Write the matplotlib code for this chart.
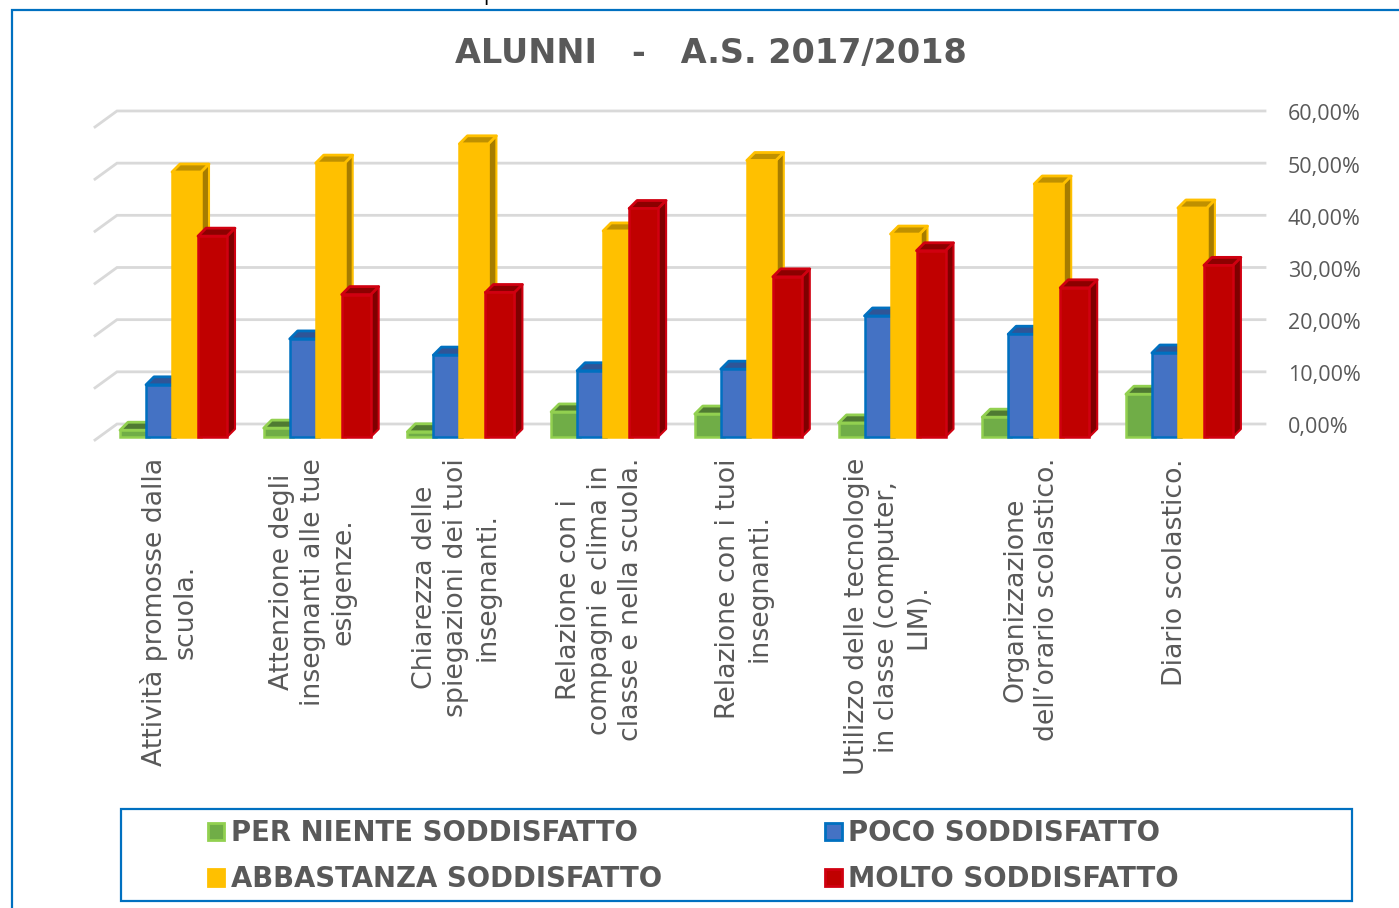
import matplotlib
matplotlib.use('Agg')
import matplotlib.pyplot as plt
from matplotlib.patches import Patch, Polygon, Rectangle
from matplotlib.lines import Line2D
from matplotlib.transforms import ScaledTranslation
import numpy as np

W, H = 1399, 908

categories = [
    'Attività promosse dalla\nscuola.',
    'Attenzione degli\ninsegnanti alle tue\nesigenze.',
    'Chiarezza delle\nspiegazioni dei tuoi\ninsegnanti.',
    'Relazione con i\ncompagni e clima in\nclasse e nella scuola.',
    'Relazione con i tuoi\ninsegnanti.',
    'Utilizzo delle tecnologie\nin classe (computer,\nLIM).',
    'Organizzazione\ndell’orario scolastico.',
    'Diario scolastico.',
]
per_niente = [1.3, 1.7, 1.0, 4.8, 4.4, 2.7, 3.8, 8.2]
poco = [10.0, 18.8, 15.7, 12.7, 13.0, 23.2, 19.7, 16.1]
abbastanza = [50.8, 52.5, 56.2, 39.5, 53.0, 38.9, 48.5, 43.9]
molto = [38.5, 27.3, 27.7, 43.8, 30.7, 35.7, 28.6, 32.9]
tick_values = [0, 10, 20, 30, 40, 50, 60]
tick_labels = ['0,00%', '10,00%', '20,00%', '30,00%', '40,00%', '50,00%', '60,00%']

# name, values, front, rim, top, side
series = [
    ('PER NIENTE SODDISFATTO', per_niente, '#70AD47', '#92D050', '#4F7A32', '#55803A'),
    ('POCO SODDISFATTO', poco, '#4472C4', '#0070C0', '#2F5597', '#2F5597'),
    ('ABBASTANZA SODDISFATTO', abbastanza, '#FFC000', '#FFC000', '#BF9000', '#A67C00'),
    ('MOLTO SODDISFATTO', molto, '#C00000', '#D00010', '#8C0000', '#7F0000'),
]

# pixels per unit on both axes
px_x = 143.7
px_y = 5.217
x0_px, y0_px = 120, 437
left_px, right_px = 95, 1265
bottom_px, top_px = 440, 103

bar_w = 29 / px_x
bar_step = 26 / px_x
depth_x = 8 / px_x
depth_y = 8 / px_y
wall_x = 22 / px_x
wall_y = 16 / px_y
front_off = -(bottom_px - y0_px) / px_y

fig = plt.figure(figsize=(W / 100, H / 100), dpi=100)
ax = fig.add_axes([left_px / W, 1 - bottom_px / H, (right_px - left_px) / W, (bottom_px - top_px) / H])
ax.set_xlim((left_px - x0_px) / px_x, (right_px - x0_px) / px_x)
ax.set_ylim(front_off, (y0_px - top_px) / px_y)
for s in ax.spines.values():
    s.set_visible(False)

# back wall and side wall lines
xl = ax.get_xlim()
for v in tick_values:
    ax.plot([xl[0], xl[0] + wall_x, xl[1]], [v + front_off, v + front_off + wall_y, v + front_off + wall_y],
            color='#D9D9D9', lw=2, zorder=1, clip_on=False, solid_joinstyle='miter')

z = 2
for k, (name, vals, front, rim, top, side) in enumerate(series):
    for i, v in enumerate(vals):
        x = i + k * bar_step
        ax.add_patch(Polygon([(x + bar_w, 0), (x + bar_w + depth_x, depth_y), (x + bar_w + depth_x, v + depth_y), (x + bar_w, v)],
                             fc=side, ec=rim, lw=1.5, joinstyle='round', zorder=z))
        ax.add_patch(Polygon([(x, v), (x + bar_w, v), (x + bar_w + depth_x, v + depth_y), (x + depth_x, v + depth_y)],
                             fc=top, ec=rim, lw=2, joinstyle='round', zorder=z))
    ax.bar([i + k * bar_step for i in range(len(vals))], vals, width=bar_w, align='edge',
           color=front, edgecolor=rim, linewidth=1.8, zorder=z + 0.5)
    z += 1

ax.set_xticks([i + 49 / px_x for i in range(len(categories))])
ax.set_xticklabels(categories, rotation=90, va='top', ha='center', multialignment='center',
                   fontsize=19.25, color='#595959', linespacing=1.25, family='DejaVu Sans')
ax.tick_params(axis='x', length=0, pad=13)

ax.yaxis.tick_right()
ax.set_yticks([v + front_off + wall_y for v in tick_values])
ax.set_yticklabels(tick_labels, fontsize=15.5, color='#595959', family='Open Sans')
ax.tick_params(axis='y', length=0, pad=16.5)
shift = ScaledTranslation(0, -1.5 / 100, fig.dpi_scale_trans)
for lab in ax.get_yticklabels():
    lab.set_transform(lab.get_transform() + shift)

fig.text(710.5 / W, 1 - 53 / H, 'ALUNNI   -   A.S. 2017/2018', ha='center', va='center',
         fontsize=24.1, fontweight='bold', color='#595959')

# stray descender cut off at the top of the page
fig.text(490 / W, 1 - 0 / H, 'p', ha='center', va='baseline', fontsize=15, color='black', family='Open Sans')

# outer frame, open on the right and bottom
fig.add_artist(Line2D([12 / W, 12 / W, 1], [0, 1 - 10 / H, 1 - 10 / H], color='#0070C0', lw=1.6, solid_joinstyle='miter'))
fig.add_artist(Rectangle((121 / W, 1 - 901 / H), (1352 - 121) / W, (901 - 809) / H, transform=fig.transFigure,
                         fc='white', ec='#0070C0', lw=1.6, zorder=1))

order = [0, 2, 1, 3]
handles = [Patch(fc=series[k][2], ec=series[k][3], lw=2, label=series[k][0]) for k in order]
leg = fig.legend(handles=handles, ncol=2, loc='center left', bbox_to_anchor=(208 / W, 1 - 856 / H), frameon=False,
                 prop={'family': 'DejaVu Sans', 'weight': 'bold', 'size': 19.8},
                 handlelength=0.6, handleheight=0.6, handletextpad=0.24, columnspacing=5.92,
                 labelspacing=0.65, borderpad=0, borderaxespad=0)
leg.set_zorder(5)
for t in leg.get_texts():
    t.set_color('#595959')

fig.savefig('out.png', dpi=100)
